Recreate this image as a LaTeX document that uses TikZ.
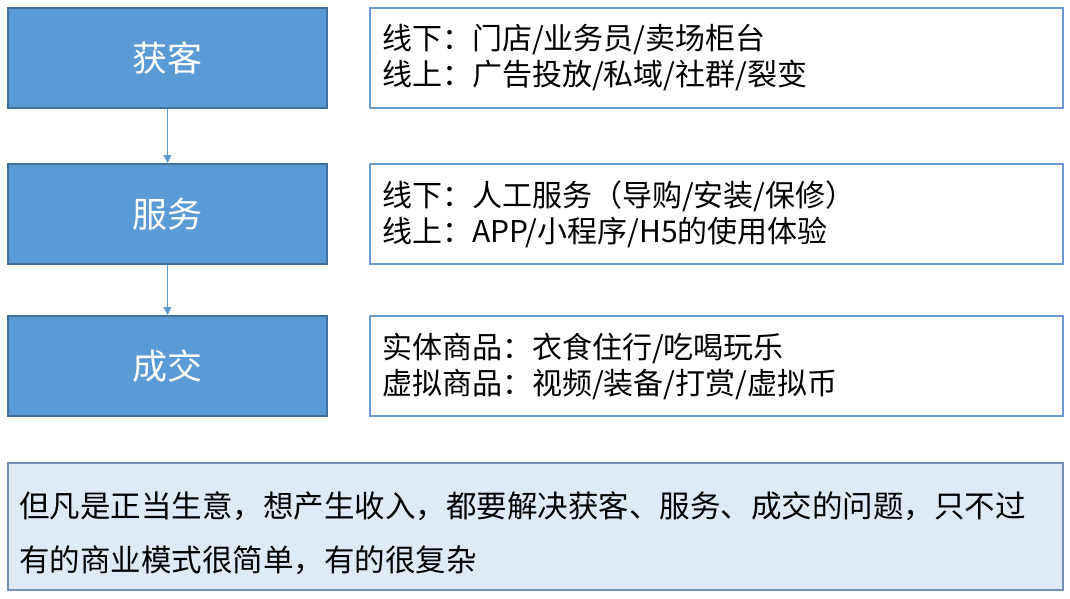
\documentclass[tikz,border=0pt]{standalone}
\usepackage{fontspec}
\usepackage{tikz}
\usetikzlibrary{arrows.meta}
\newfontfamily\cjk{Noto Sans CJK SC}

\definecolor{stepblue}{HTML}{5B9BD5}
\definecolor{stepedge}{HTML}{41719C}
\definecolor{infoedge}{HTML}{6A9ACB}
\definecolor{notefill}{HTML}{DEEBF7}
\definecolor{noteedge}{HTML}{7391B4}

\begin{document}
\begin{tikzpicture}[x=1pt,y=-1pt,
  stepbox/.style={draw=stepedge,line width=2pt,fill=stepblue,text=white,
    minimum width=319pt,minimum height=100pt,inner sep=0pt,
    font=\cjk\fontsize{35}{40}\selectfont},
  infobox/.style={draw=infoedge,line width=2pt,fill=white,
    minimum width=693pt,minimum height=100pt,inner xsep=12pt,inner ysep=0pt,
    text width=669pt,align=left,font=\cjk\fontsize{30}{36}\selectfont},
  notebox/.style={draw=noteedge,line width=2pt,fill=notefill,
    minimum width=1055pt,minimum height=127pt,inner sep=0pt},
  notetext/.style={inner sep=0pt,align=left,font=\cjk\fontsize{30.5}{54}\selectfont},
  flow/.style={draw=stepblue,line width=1pt,-{Triangle[length=8pt,width=8pt]}}]

\useasboundingbox (0,0) rectangle (1070,599);

\node [stepbox] (huoke)   at (167.5,58)  {获客};
\node [stepbox] (fuwu)    at (167.5,214) {服务};
\node [stepbox] (chengjiao) at (167.5,366) {成交};

\node [infobox] (huokeInfo) at (716.5,58)
  {线下：门店/业务员/卖场柜台\\线上：广告投放/私域/社群/裂变};
\node [infobox] (fuwuInfo) at (716.5,214)
  {线下：人工服务（导购/安装/保修）\\线上：APP/小程序/H5的使用体验};
\node [infobox] (chengjiaoInfo) at (716.5,366)
  {实体商品：衣食住行/吃喝玩乐\\虚拟商品：视频/装备/打赏/虚拟币};

\draw[flow] (huoke) -- (fuwu);
\draw[flow] (fuwu) -- (chengjiao);

\node [notebox] (summary) at (535.5,526.5) {};
\node [notetext,anchor=west] (summaryText) at ([xshift=12pt,yshift=-7pt]summary.west)
  {但凡是正当生意，想产生收入，都要解决获客、服务、成交的问题，只不过\\有的商业模式很简单，有的很复杂};

\end{tikzpicture}
\end{document}
